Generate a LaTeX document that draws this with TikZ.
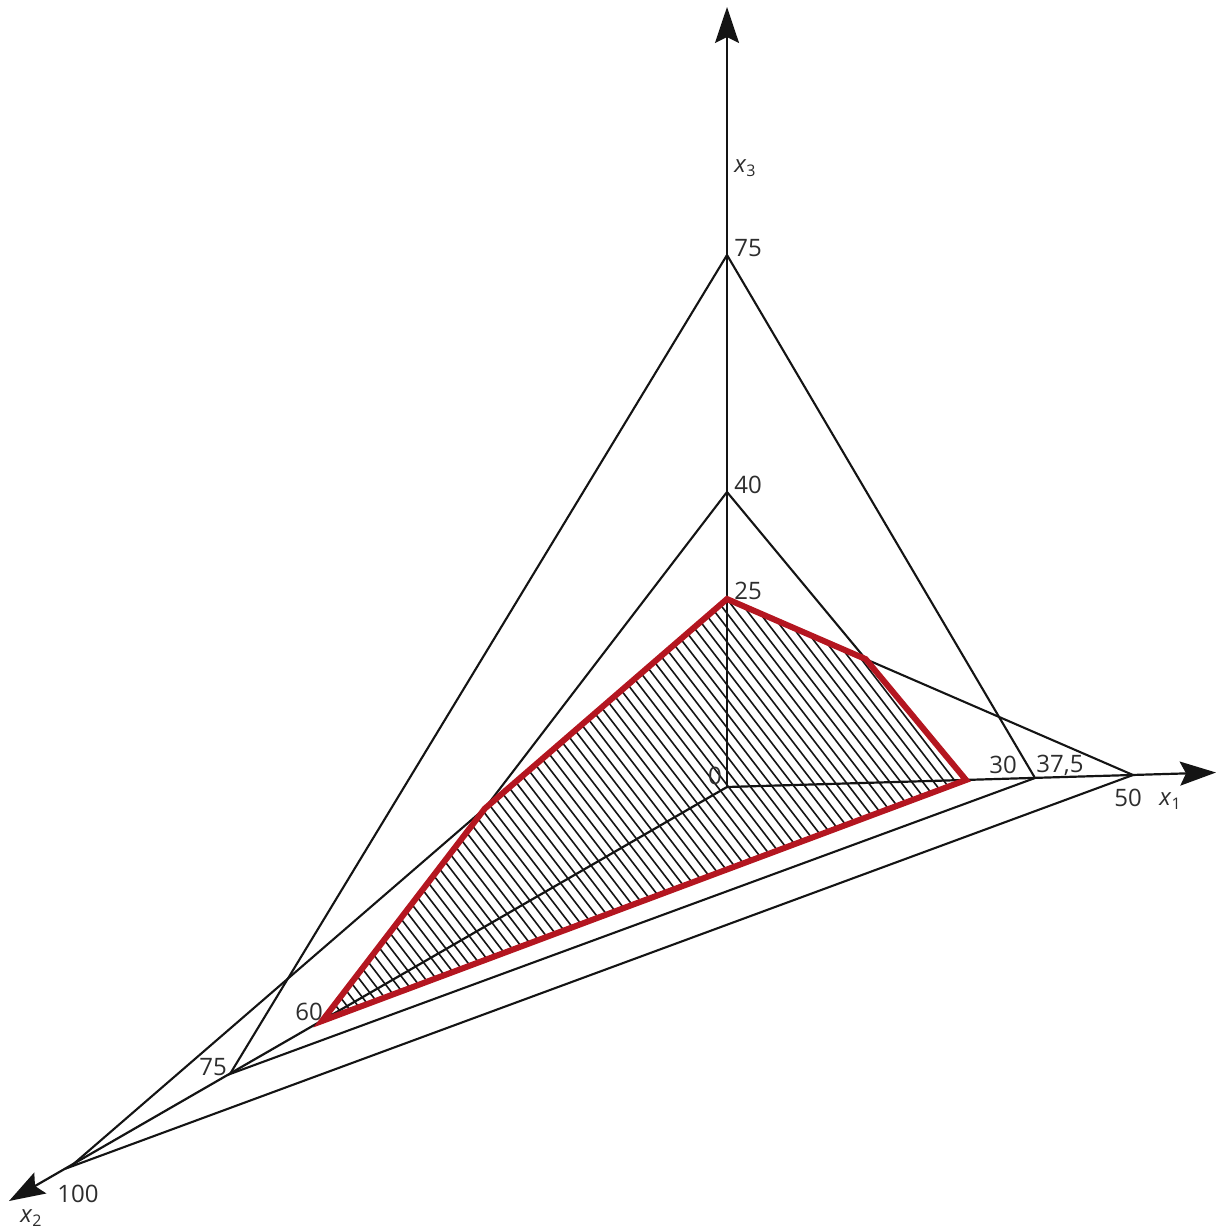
\documentclass[tikz,border=0pt]{standalone}
\usepackage{fontspec}
\setmainfont{Open Sans}
\usetikzlibrary{arrows.meta}
\definecolor{redline}{RGB}{180,22,32}
\definecolor{txt}{RGB}{45,45,45}
\definecolor{ink}{RGB}{20,20,20}
\newcommand{\axlab}[1]{\textit{x}\raisebox{-0.3ex}{\fontsize{16}{16}\selectfont #1}}
\begin{document}
\begin{tikzpicture}[x=1pt,y=-1pt,
  ax/.style={draw=ink,line width=2.2pt,-{Stealth[length=36pt,width=24pt,inset=6pt]}},
  edge/.style={draw=ink,line width=2.1pt},
  hatch/.style={draw=ink,line width=1.6pt},
  region/.style={draw=redline,line width=6pt,line join=miter},
  lab/.style={text=txt,font=\fontsize{24}{28}\selectfont,inner sep=0pt}]
\useasboundingbox (0,0) rectangle (1217,1229);
% points
\coordinate (O) at (727,787);
\coordinate (Ztip) at (727,7);
\coordinate (z75) at (727,255);
\coordinate (z40) at (727,492);
\coordinate (z25) at (727,599);
\coordinate (x30) at (966,780);
\coordinate (x375) at (1035,778);
\coordinate (x50) at (1133,775);
\coordinate (Xtip) at (1216,772.5);
\coordinate (y60) at (322,1021);
\coordinate (y75) at (230,1074);
\coordinate (y100) at (70,1167);
\coordinate (Ytip) at (9,1201);
\coordinate (B) at (intersection of z25--x50 and z40--x30);
\coordinate (C) at (intersection of z25--y100 and z40--y60);
% hatching
\begin{scope}
\clip (z25) -- (B) -- (x30) -- (y60) -- (C) -- cycle;
\foreach \k in {-70,...,12} \draw[hatch] ({727+11*\k-400},{599-520}) -- ++(800,1040);
\end{scope}
% axes
\draw[ax] (O) -- (Ztip);
\draw[ax] (O) -- (Xtip);
\draw[ax] (O) -- (Ytip);
% planes
\draw[edge] (z75) -- (y75) -- (x375) -- cycle;
\draw[edge] (z40) -- (y60) -- (x30) -- cycle;
\draw[edge] (z25) -- (y100) -- (x50) -- cycle;
% feasible region
\draw[region] (z25) -- (B) -- (x30) -- (y60) -- (C) -- cycle;
% labels
\node[lab] (lz) at (745,168) {\axlab{3}};
\node[lab] (l75z) at (748,248) {75};
\node[lab] (l40z) at (748,485) {40};
\node[lab] (l25z) at (748,591) {25};
\node[lab] (l0) at (715,776) {0};
\node[lab] (l30) at (1003,765) {30};
\node[lab] (l375) at (1060,765) {37,5};
\node[lab] (l50) at (1128,798) {50};
\node[lab] (lx) at (1170,801) {\axlab{1}};
\node[lab] (l60) at (309,1012) {60};
\node[lab] (l75y) at (213,1067) {75};
\node[lab] (l100) at (78,1194) {100};
\node[lab] (ly) at (31,1218) {\axlab{2}};
\end{tikzpicture}
\end{document}
